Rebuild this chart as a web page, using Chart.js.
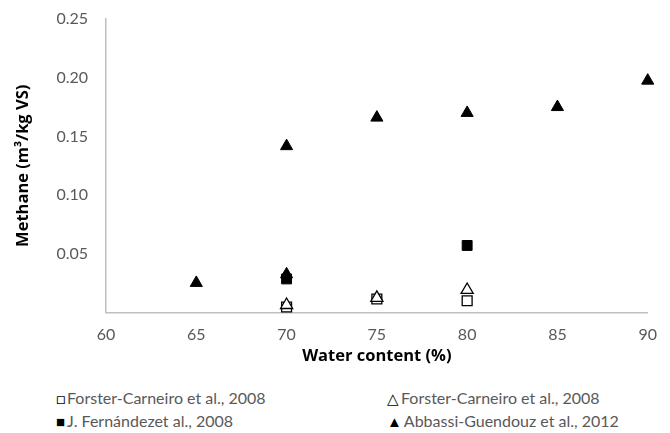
<!DOCTYPE html>
<html>
<head>
<meta charset="utf-8">
<script src="https://cdn.jsdelivr.net/npm/chart.js@4"></script>
<style>
html,body{margin:0;padding:0;background:#fff;overflow:hidden;}
#wrap{position:relative;width:670px;height:433px;overflow:hidden;}
#box{position:absolute;left:0;top:0;width:670px;height:372px;}
#legend{position:absolute;left:0;top:385px;width:670px;font-family:Lato,"Liberation Sans",sans-serif;font-size:16px;color:#595959;}
.item{position:absolute;white-space:nowrap;line-height:18px;}
.mk{display:inline-block;margin-right:2px;color:#000;font-size:15px;}
</style>
</head>
<body>
<div id="wrap">
<div id="box"><canvas id="c"></canvas></div>
<div id="legend"></div>
</div>
<script>
const xTicks = [60, 65, 70, 75, 80, 85, 90];
const yTicks = [0, 0.05, 0.10, 0.15, 0.20, 0.25];

const seriesNames = [
  "Forster-Carneiro et al., 2008",
  "Forster-Carneiro et al., 2008",
  "J. Fernándezet al., 2008",
  "Abbassi-Guendouz et al., 2012"
];
const fcSquareX = [70, 75, 80];
const fcSquareY = [0.0047, 0.0115, 0.0100];
const fcTriX = [70, 75, 80];
const fcTriY = [0.0064, 0.0125, 0.0192];
const fernX = [70, 80];
const fernY = [0.0286, 0.0571];
const abbX = [65, 70, 70, 75, 80, 85, 90];
const abbY = [0.0252, 0.0325, 0.1417, 0.1660, 0.1700, 0.1750, 0.1975];

function pts(xs, ys){ return xs.map((x,i)=>({x:x, y:ys[i]})); }

const datasets = [
  {label: seriesNames[0], data: pts(fcSquareX, fcSquareY), pointStyle:'rect', pointRadius:7, backgroundColor:'#fff', borderColor:'#000', borderWidth:1.3, order:3, clip:false},
  {label: seriesNames[1], data: pts(fcTriX, fcTriY), pointStyle:'triangle', pointRadius:7, backgroundColor:'#fff', borderColor:'#000', borderWidth:1.3, order:2, clip:false},
  {label: seriesNames[2], data: pts(fernX, fernY), pointStyle:'rect', pointRadius:7, backgroundColor:'#000', borderColor:'#000', borderWidth:1, order:1, clip:false},
  {label: seriesNames[3], data: pts(abbX, abbY), pointStyle:'triangle', pointRadius:7, backgroundColor:'#000', borderColor:'#000', borderWidth:1, order:0, clip:false}
];

const tickFont = {family:'Lato, "Liberation Sans", sans-serif', size:16};
const titleFont = {family:'"Open Sans", "Liberation Sans", sans-serif', size:16.5, weight:'bold'};

new Chart(document.getElementById('c'), {
  type:'scatter',
  data:{datasets},
  options:{
    responsive:true, maintainAspectRatio:false, animation:false,
    layout:{padding:{top:19, right:22, left:0, bottom:0}},
    plugins:{legend:{display:false}, tooltip:{enabled:false}},
    scales:{
      x:{
        type:'linear', min:xTicks[0], max:xTicks[xTicks.length-1],
        afterBuildTicks:(s)=>{ s.ticks = xTicks.map(v=>({value:v})); },
        grid:{display:false, drawTicks:false},
        border:{display:true, color:'#bfbfbf', width:1.5},
        ticks:{font:tickFont, color:'#595959', padding:13},
        title:{display:true, text:'Water content (%)', font:titleFont, color:'#000', padding:{top:2,bottom:6}},
        afterFit:(s)=>{ s.height = 59.5; }
      },
      y:{
        type:'linear', min:yTicks[0], max:yTicks[yTicks.length-1],
        afterBuildTicks:(s)=>{ s.ticks = yTicks.map(v=>({value:v})); },
        grid:{display:false, drawTicks:false},
        border:{display:true, color:'#bfbfbf', width:1.5},
        ticks:{font:tickFont, color:'#595959', padding:18, callback:(v)=> v===0 ? '' : v.toFixed(2)},
        title:{display:true, text:'Methane (m³/kg VS)', font:titleFont, color:'#000', padding:{top:13,bottom:8}},
        afterFit:(s)=>{ s.width = 106; s.paddingTop = 0; s.paddingBottom = 0; }
      }
    }
  }
});

const legendPos = [
  {left:56, top:4, mk:'□'},
  {left:387, top:4, mk:'△'},
  {left:56, top:27, mk:'■'},
  {left:387, top:27, mk:'▲'}
];
const lg = document.getElementById('legend');
seriesNames.forEach((n,i)=>{
  const d = document.createElement('div');
  d.className='item';
  d.style.left = legendPos[i].left+'px';
  d.style.top = legendPos[i].top+'px';
  const m = document.createElement('span'); m.className='mk'; m.textContent = legendPos[i].mk;
  d.appendChild(m);
  d.appendChild(document.createTextNode(n));
  lg.appendChild(d);
});
</script>
</body>
</html>
